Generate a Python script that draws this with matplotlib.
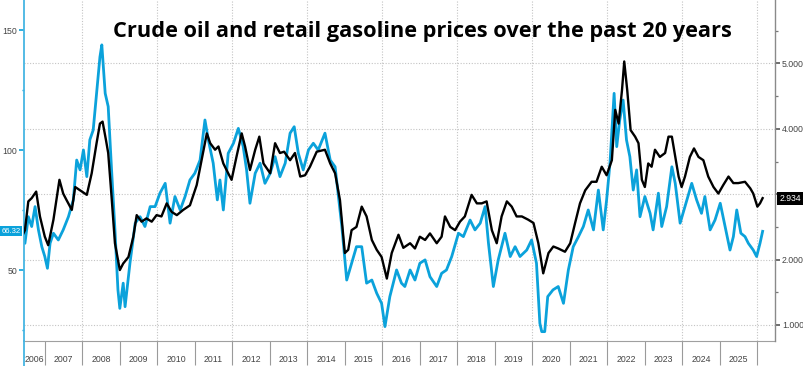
import matplotlib
matplotlib.use("Agg")
import matplotlib.pyplot as plt
from matplotlib.lines import Line2D
import matplotlib.transforms as mtrans

# ---------------- data ----------------
gas_t = [2006.43, 2006.47, 2006.56, 2006.65, 2006.77, 2006.87, 2007.00, 2007.09, 2007.23, 2007.39,
         2007.49, 2007.58, 2007.72, 2007.81, 2007.94, 2008.12, 2008.25, 2008.38, 2008.47, 2008.54,
         2008.63, 2008.69, 2008.78, 2008.87, 2009.00, 2009.09, 2009.23, 2009.36, 2009.45, 2009.58,
         2009.71, 2009.85, 2009.98, 2010.11, 2010.25, 2010.38, 2010.52, 2010.69, 2010.87, 2011.05,
         2011.18, 2011.32, 2011.41, 2011.54, 2011.63, 2011.76, 2011.89, 2011.98, 2012.11, 2012.25,
         2012.34, 2012.47, 2012.61, 2012.72, 2012.83, 2013.01, 2013.14, 2013.27, 2013.38, 2013.54,
         2013.67, 2013.81, 2013.94, 2014.07, 2014.25, 2014.47, 2014.61, 2014.74, 2014.87, 2015.00,
         2015.09, 2015.18, 2015.31, 2015.45, 2015.58, 2015.72, 2015.85, 2015.98, 2016.12, 2016.25,
         2016.43, 2016.56, 2016.74, 2016.87, 2017.00, 2017.14, 2017.27, 2017.45, 2017.58, 2017.67,
         2017.81, 2017.94, 2018.07, 2018.20, 2018.38, 2018.52, 2018.65, 2018.78, 2018.92, 2019.05,
         2019.18, 2019.32, 2019.45, 2019.58, 2019.72, 2019.89, 2020.03, 2020.16, 2020.29, 2020.43,
         2020.56, 2020.69, 2020.87, 2021.01, 2021.14, 2021.27, 2021.41, 2021.58, 2021.71, 2021.85,
         2021.98, 2022.12, 2022.21, 2022.30, 2022.39, 2022.45, 2022.53, 2022.62, 2022.74, 2022.83,
         2022.92, 2023.00, 2023.09, 2023.18, 2023.27, 2023.40, 2023.54, 2023.63, 2023.72, 2023.81,
         2023.90, 2023.98, 2024.07, 2024.20, 2024.31, 2024.43, 2024.56, 2024.69, 2024.83, 2024.96,
         2025.09, 2025.23, 2025.36, 2025.49, 2025.67, 2025.81, 2025.89, 2026.00, 2026.07, 2026.14]
gasoline = [2.40, 2.45, 2.89, 2.94, 3.04, 2.66, 2.35, 2.22, 2.61, 3.22,
            3.01, 2.91, 2.76, 3.11, 3.06, 2.99, 3.32, 3.78, 4.08, 4.11,
            3.83, 3.63, 2.96, 2.25, 1.84, 1.94, 2.04, 2.35, 2.68, 2.58,
            2.63, 2.58, 2.68, 2.66, 2.86, 2.73, 2.68, 2.76, 2.83, 3.14,
            3.52, 3.93, 3.78, 3.68, 3.73, 3.47, 3.32, 3.22, 3.57, 3.93,
            3.73, 3.37, 3.68, 3.88, 3.47, 3.32, 3.78, 3.63, 3.65, 3.52,
            3.63, 3.27, 3.29, 3.42, 3.65, 3.68, 3.47, 3.32, 2.91, 2.10,
            2.15, 2.45, 2.50, 2.81, 2.66, 2.30, 2.15, 2.04, 1.71, 2.10,
            2.38, 2.18, 2.25, 2.17, 2.35, 2.30, 2.40, 2.25, 2.35, 2.66,
            2.50, 2.45, 2.58, 2.66, 2.99, 2.86, 2.86, 2.89, 2.45, 2.25,
            2.66, 2.89, 2.81, 2.66, 2.66, 2.61, 2.56, 2.25, 1.79, 2.10,
            2.20, 2.17, 2.12, 2.25, 2.56, 2.86, 3.06, 3.19, 3.19, 3.42,
            3.29, 3.52, 4.29, 4.08, 4.59, 5.03, 4.59, 3.98, 3.88, 3.78,
            3.22, 3.11, 3.47, 3.42, 3.68, 3.57, 3.63, 3.88, 3.88, 3.57,
            3.27, 3.11, 3.27, 3.57, 3.70, 3.57, 3.52, 3.27, 3.11, 3.01,
            3.14, 3.27, 3.17, 3.17, 3.19, 3.09, 3.01, 2.81, 2.86, 2.94]

oil_t = [2006.43, 2006.47, 2006.56, 2006.65, 2006.74, 2006.83, 2006.92, 2007.00, 2007.07, 2007.14,
         2007.23, 2007.36, 2007.49, 2007.63, 2007.76, 2007.85, 2007.94, 2008.03, 2008.12, 2008.20,
         2008.29, 2008.38, 2008.47, 2008.52, 2008.61, 2008.69, 2008.78, 2008.87, 2008.95, 2009.00,
         2009.09, 2009.14, 2009.27, 2009.41, 2009.54, 2009.67, 2009.81, 2009.94, 2010.07, 2010.21,
         2010.34, 2010.47, 2010.61, 2010.74, 2010.87, 2011.00, 2011.14, 2011.27, 2011.36, 2011.49,
         2011.60, 2011.67, 2011.76, 2011.89, 2012.03, 2012.16, 2012.29, 2012.38, 2012.47, 2012.61,
         2012.74, 2012.87, 2013.01, 2013.14, 2013.27, 2013.41, 2013.54, 2013.65, 2013.76, 2013.89,
         2014.03, 2014.16, 2014.29, 2014.47, 2014.61, 2014.74, 2014.83, 2014.92, 2015.05, 2015.18,
         2015.31, 2015.45, 2015.58, 2015.72, 2015.85, 2015.98, 2016.07, 2016.20, 2016.38, 2016.51,
         2016.60, 2016.74, 2016.87, 2017.00, 2017.14, 2017.27, 2017.45, 2017.58, 2017.71, 2017.85,
         2018.03, 2018.16, 2018.34, 2018.47, 2018.61, 2018.74, 2018.83, 2018.96, 2019.09, 2019.27,
         2019.41, 2019.54, 2019.67, 2019.85, 2019.98, 2020.11, 2020.20, 2020.25, 2020.33, 2020.41,
         2020.55, 2020.69, 2020.83, 2020.96, 2021.09, 2021.23, 2021.36, 2021.49, 2021.63, 2021.76,
         2021.89, 2021.98, 2022.07, 2022.18, 2022.25, 2022.33, 2022.42, 2022.51, 2022.60, 2022.69,
         2022.78, 2022.87, 2023.00, 2023.14, 2023.22, 2023.36, 2023.45, 2023.58, 2023.72, 2023.81,
         2023.94, 2024.07, 2024.25, 2024.38, 2024.51, 2024.60, 2024.74, 2024.87, 2025.01, 2025.14,
         2025.27, 2025.36, 2025.45, 2025.56, 2025.67, 2025.76, 2025.89, 2025.98, 2026.07, 2026.14]
crude = [62.0, 61.3, 72.4, 68.3, 76.6, 66.9, 59.9, 55.8, 50.9, 61.3,
         65.5, 62.7, 66.9, 72.4, 79.4, 96.0, 91.9, 100.2, 89.1, 104.4,
         108.5, 123.8, 139.0, 144.0, 123.8, 118.3, 91.9, 66.9, 41.9, 34.2,
         44.7, 34.9, 53.0, 69.7, 72.4, 68.3, 76.6, 76.6, 82.2, 86.3,
         69.7, 80.8, 75.2, 80.8, 87.7, 90.5, 96.0, 112.7, 104.4, 94.7,
         79.4, 87.7, 75.2, 98.8, 103.0, 109.2, 101.6, 91.9, 78.0, 90.5,
         94.7, 86.3, 90.5, 97.4, 89.1, 94.7, 107.2, 109.9, 98.8, 91.9,
         100.2, 103.0, 100.2, 107.2, 96.0, 93.2, 80.8, 68.3, 46.0, 53.0,
         59.9, 59.9, 44.7, 46.0, 40.5, 36.3, 26.6, 39.1, 50.2, 44.7,
         43.3, 50.2, 46.0, 53.0, 54.4, 47.4, 43.3, 48.8, 50.2, 55.8,
         65.5, 64.1, 71.0, 66.9, 69.7, 76.6, 61.3, 43.3, 54.4, 65.5,
         55.8, 59.9, 55.8, 58.5, 62.7, 53.0, 28.0, 24.5, 24.5, 39.1,
         41.9, 43.3, 36.3, 50.2, 59.9, 64.1, 68.3, 75.2, 66.9, 83.5,
         66.9, 79.4, 94.7, 123.8, 101.6, 112.7, 121.0, 104.4, 97.4, 83.5,
         91.9, 72.4, 80.8, 73.8, 66.9, 82.2, 68.3, 76.6, 93.2, 86.3,
         69.7, 76.6, 86.3, 79.4, 73.8, 80.8, 66.9, 71.0, 78.0, 68.3,
         58.5, 64.1, 75.2, 65.5, 64.1, 61.3, 58.5, 55.8, 61.3, 66.3]

year_labels = [str(y) for y in range(2006, 2026)]
oil_ticks = [50, 100, 150]
oil_minor = [25, 75, 125]
gas_ticks = [1, 2, 3, 4, 5]
gas_minor = [1.5, 2.5, 3.5, 4.5, 5.5]
oil_last = "66.32"
gas_last = "2.934"
title = "Crude oil and retail gasoline prices over the past 20 years"

BLUE = "#0ba2db"
SPINE_BLUE = "#45b5e3"
GRID = "#c4c4c4"
TXT = "#444444"
SMALL = ["Liberation Sans Narrow", "Liberation Sans", "DejaVu Sans"]

W, H = 804, 366
fig = plt.figure(figsize=(W / 100, H / 100), dpi=100)
ax = fig.add_axes([24 / W, 25 / H, 751 / W, 341 / H])
ax2 = ax.twinx()

x0, x1 = 2006.445, 2026.47
ax.set_xlim(x0, x1)
ax.set_ylim(20.6, 162.7)
ax2.set_ylim(0.755, 5.97)

# grid (drawn in bottom axes so lines sit above it)
bt = mtrans.blended_transform_factory(ax.transAxes, ax2.transData)
for g in gas_ticks:
    ax.add_line(Line2D([0, 1], [g, g], transform=bt, color=GRID, lw=0.8,
                       ls=(0, (1, 1.5)), zorder=0))
for yr in range(2008, 2027, 2):
    ax.axvline(yr, color=GRID, lw=0.8, ls=(0, (1, 1.5)), zorder=0)

ax.plot(oil_t, crude, color=BLUE, lw=2.0, zorder=2, solid_joinstyle="round")
ax2.plot(gas_t, gasoline, color="black", lw=1.7, zorder=3, solid_joinstyle="round")

# spines
ax.spines["top"].set_visible(False)
ax2.spines["top"].set_visible(False)
ax2.spines["left"].set_visible(False)
ax.spines["right"].set_visible(False)
ax.spines["left"].set_color(SPINE_BLUE)
ax.spines["left"].set_linewidth(1.3)
ax2.spines["right"].set_color("#8a8a8a")
ax2.spines["right"].set_linewidth(1.0)
ax.spines["bottom"].set_color("#a0a0a0")
ax2.spines["bottom"].set_visible(False)
fig.add_artist(Line2D([24 / W, 24 / W], [0, 25 / H], color=SPINE_BLUE, lw=1.3))

# left axis
ax.set_yticks(oil_ticks)
ax.set_yticklabels([str(v) for v in oil_ticks])
ax.set_yticks(oil_minor, minor=True)
ax.tick_params(axis="y", which="major", direction="out", length=3.5, width=1.2,
               color=BLUE, labelsize=6.3, labelcolor=TXT, pad=1.5)
ax.tick_params(axis="y", which="minor", direction="out", length=1.8, width=1.0, color=BLUE)
for lab in ax.get_yticklabels():
    lab.set_family(SMALL)

# right axis (the 3.000 label sits under the last-value tag in the reference)
ax2.set_yticks(gas_ticks)
ax2.set_yticklabels(["" if v == 3 else f"{v:.3f}" for v in gas_ticks])
ax2.set_yticks(gas_minor, minor=True)
ax2.tick_params(axis="y", which="major", direction="out", length=3.5, width=1.2,
                color="#555555", labelsize=6.3, labelcolor=TXT, pad=1.5)
ax2.tick_params(axis="y", which="minor", direction="out", length=2, width=0.9, color="#777777")
for lab in ax2.get_yticklabels():
    lab.set_family(SMALL)

# x axis: separators at year boundaries, labels centred in each year
ax.set_xticks(list(range(2007, 2027)))
ax.set_xticklabels([])
label_pos = [(x0 + 2007) / 2] + [y + 0.5 for y in range(2007, 2026)]
ax.set_xticks(label_pos, minor=True)
ax.set_xticklabels(year_labels, minor=True)
ax.tick_params(axis="x", which="major", direction="out", length=17, width=0.8, color="#9a9a9a")
ax.tick_params(axis="x", which="minor", length=0, labelsize=6.3, labelcolor=TXT, pad=10)
for lab in ax.get_xticklabels(minor=True):
    lab.set_family(SMALL)

# last-value tags
tl = mtrans.blended_transform_factory(ax.transAxes, ax.transData)
ax.text(-0.0045, float(oil_last), oil_last, transform=tl, ha="right", va="center",
        fontsize=5.6, color="white", family=SMALL, zorder=10, clip_on=False,
        bbox=dict(boxstyle="square,pad=0.22", fc=BLUE, ec="none"))
tr = mtrans.blended_transform_factory(ax2.transAxes, ax2.transData)
ax2.text(1.006, float(gas_last), gas_last, transform=tr, ha="left", va="center",
         fontsize=6.2, color="white", family=SMALL, zorder=10, clip_on=False,
         bbox=dict(boxstyle="square,pad=0.25", fc="black", ec="none"))

# title
t = fig.text(422.5 / W, 1 - 36.5 / H, title, ha="center", va="baseline",
             fontsize=16, fontweight="bold", family=["Open Sans", "DejaVu Sans"], color="black")
fig.canvas.draw()
wpx = t.get_window_extent().width
t.set_fontsize(16 * 619 / wpx)

fig.savefig("out.png", dpi=100)
